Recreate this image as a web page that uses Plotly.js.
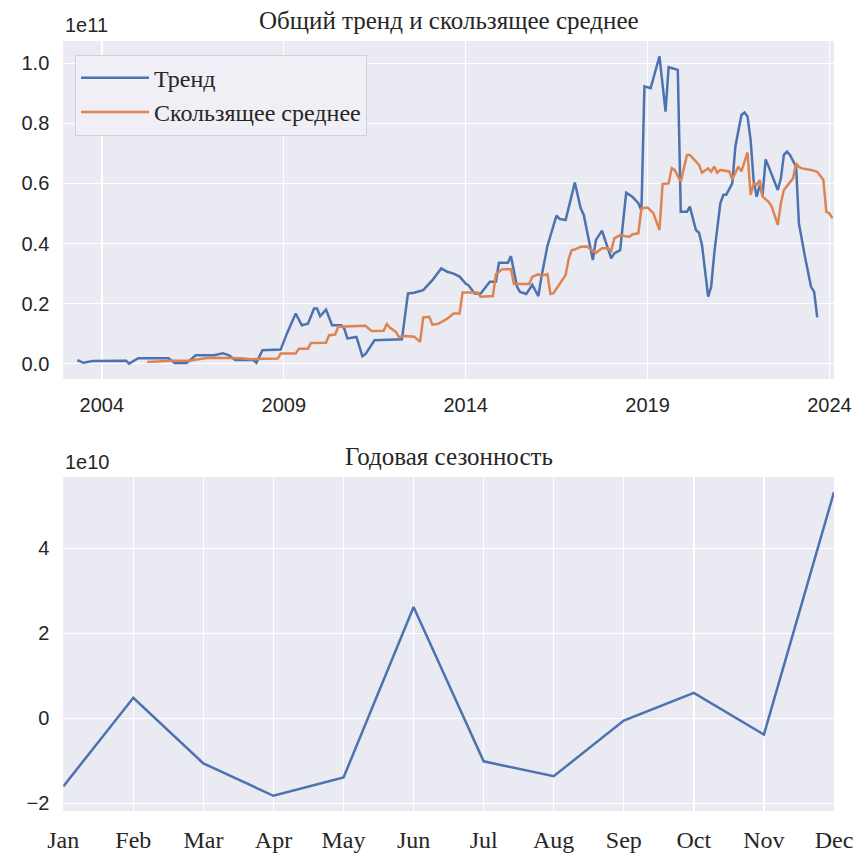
<!DOCTYPE html>
<html><head><meta charset="utf-8">
<script src="https://cdn.plot.ly/plotly-3.0.1.min.js"></script>
<style>html,body{margin:0;padding:0;background:#fff}</style>
</head><body><div id="chart" style="width:855px;height:855px"></div>
<script>
// Trend (values in units of 1e10)
const trendDates = ['2003-05','2003-07','2003-10','2004-09','2004-10','2005-01','2005-11','2006-01','2006-05','2006-08','2007-02','2007-05','2007-07','2007-09','2008-03','2008-04','2008-06','2008-12','2009-02','2009-05','2009-07','2009-09','2009-11','2009-12','2010-01','2010-03','2010-05','2010-08','2010-09','2010-10','2011-01','2011-03','2011-04','2011-07','2012-04','2012-06','2012-08','2012-11','2013-02','2013-05','2013-07','2013-09','2013-11','2014-01','2014-02','2014-04','2014-06','2014-09','2014-11','2014-12','2015-03','2015-04','2015-06','2015-07','2015-09','2015-11','2016-01','2016-02','2016-04','2016-07','2016-08','2016-10','2017-01','2017-03','2017-04','2017-06','2017-07','2017-08','2017-10','2018-01','2018-02','2018-04','2018-06','2018-08','2018-10','2018-11','2018-12','2019-02','2019-05','2019-07','2019-08','2019-11','2019-12','2020-02','2020-03','2020-05','2020-06','2020-07','2020-09','2020-10','2020-11','2021-01','2021-02','2021-03','2021-05','2021-06','2021-08','2021-09','2021-10','2021-11','2021-12','2022-01','2022-02','2022-03','2022-04','2022-05','2022-07','2022-08','2022-09','2022-10','2022-11','2022-12','2023-02','2023-03','2023-05','2023-07','2023-08','2023-09'];
const trendValues = [0.12,0.03,0.09,0.10,0.0,0.18,0.18,0.02,0.02,0.28,0.28,0.35,0.28,0.12,0.12,0.03,0.45,0.47,1.0,1.67,1.28,1.33,1.84,1.84,1.58,1.8,1.28,1.28,1.17,0.84,0.89,0.25,0.32,0.78,0.81,2.34,2.36,2.45,2.78,3.17,3.06,3.0,2.9,2.67,2.6,2.34,2.34,2.73,2.73,3.36,3.36,3.58,2.56,2.39,2.32,2.62,2.25,2.89,3.92,4.93,4.82,4.78,6.03,5.17,4.95,3.89,3.45,4.12,4.43,3.51,3.67,3.78,5.69,5.56,5.34,5.1,9.23,9.17,10.23,8.39,9.87,9.78,5.06,5.06,5.23,4.45,4.36,3.95,2.23,2.56,3.67,5.34,5.62,5.62,6.0,7.23,8.28,8.36,8.23,7.45,6.1,5.56,5.95,5.6,6.8,6.56,6.0,5.78,6.17,6.95,7.06,6.95,6.56,4.67,3.56,2.56,2.39,1.54];
// Moving average (values in units of 1e10)
const maDates = ['2005-04','2005-12','2006-06','2006-11','2007-02','2007-08','2007-11','2008-02','2008-11','2008-12','2009-05','2009-06','2009-09','2009-10','2010-03','2010-04','2010-06','2010-07','2011-04','2011-06','2011-10','2011-11','2011-12','2012-02','2012-03','2012-05','2012-08','2012-10','2012-11','2013-01','2013-02','2013-04','2013-06','2013-07','2013-09','2013-11','2013-12','2014-05','2014-06','2014-10','2014-11','2015-01','2015-04','2015-05','2015-10','2015-11','2016-01','2016-02','2016-04','2016-05','2016-06','2016-08','2016-10','2016-11','2016-12','2017-01','2017-03','2017-05','2017-08','2017-10','2017-12','2018-01','2018-02','2018-04','2018-07','2018-08','2018-10','2018-11','2019-01','2019-03','2019-05','2019-06','2019-08','2019-09','2019-10','2019-12','2020-02','2020-03','2020-05','2020-06','2020-07','2020-09','2020-10','2020-11','2020-12','2021-01','2021-04','2021-05','2021-07','2021-08','2021-09','2021-10','2021-11','2021-12','2022-01','2022-02','2022-03','2022-05','2022-06','2022-08','2022-09','2022-10','2023-01','2023-02','2023-03','2023-04','2023-07','2023-09','2023-11','2023-12','2024-01','2024-02'];
const maValues = [0.06,0.1,0.1,0.18,0.2,0.2,0.18,0.15,0.17,0.34,0.34,0.5,0.5,0.69,0.7,0.95,0.97,1.23,1.26,1.09,1.1,1.32,1.2,1.06,0.89,0.92,0.9,0.73,1.54,1.56,1.3,1.33,1.45,1.5,1.67,1.67,2.37,2.37,2.23,2.25,2.98,3.14,3.15,2.65,2.65,2.89,2.98,2.92,2.98,2.32,2.35,2.67,2.95,3.5,3.78,3.8,3.89,3.9,3.69,3.84,3.84,3.75,4.17,4.28,4.22,4.3,4.34,5.17,5.2,5.01,4.45,5.98,6.0,6.51,6.45,6.06,6.95,6.95,6.73,6.62,6.36,6.5,6.39,6.56,6.36,6.45,6.4,6.14,6.56,6.4,6.73,7.03,5.62,6.0,5.95,6.12,5.56,5.39,5.23,4.62,5.34,5.78,6.17,6.67,6.55,6.5,6.45,6.39,6.12,5.06,5.0,4.84];
// Seasonality (values in units of 1e10)
const months = ['Jan','Feb','Mar','Apr','May','Jun','Jul','Aug','Sep','Oct','Nov','Dec'];
const seasonalValues = [-1.60,0.485,-1.06,-1.82,-1.39,2.62,-1.01,-1.36,-0.05,0.60,-0.38,5.32];
// Tick labels
const yearTicks = ['2004','2009','2014','2019','2024'];
const topTickLabels = ['0.0','0.2','0.4','0.6','0.8','1.0']; // ×1e11
const bottomTickLabels = ['−2','0','2','4']; // ×1e10

const E10 = 1e10;
const BLUE = '#4C72B0', ORANGE = '#DD8452';
const SANS = '"Liberation Sans", Arial, sans-serif';
const SERIF = '"Liberation Serif", "Times New Roman", serif';
const TXT = '#262626';

const traces = [
  {x: trendDates.map(d => d + '-01'), y: trendValues.map(v => v * E10), type: 'scatter', mode: 'lines',
   name: 'Тренд', line: {color: BLUE, width: 2.5}, xaxis: 'x', yaxis: 'y', legendgroup: 'a'},
  {x: maDates.map(d => d + '-01'), y: maValues.map(v => v * E10), type: 'scatter', mode: 'lines',
   name: 'Скользящее среднее', line: {color: ORANGE, width: 2.5}, xaxis: 'x', yaxis: 'y', legendgroup: 'b'},
  {x: months, y: seasonalValues.map(v => v * E10), type: 'scatter', mode: 'lines',
   name: 'Сезонность', showlegend: false, line: {color: BLUE, width: 2.5}, xaxis: 'x2', yaxis: 'y2'}
];

const gridStyle = {showgrid: true, gridcolor: '#ffffff', gridwidth: 1.4, zeroline: false, showline: false,
  ticks: 'outside', tickcolor: 'rgba(0,0,0,0)'};

const layout = {
  width: 855, height: 855,
  margin: {l: 0, r: 0, t: 0, b: 0},
  paper_bgcolor: '#ffffff', plot_bgcolor: '#EAEAF2',
  showlegend: true,
  legend: {x: 0.0877, y: 0.936, xanchor: 'left', yanchor: 'top', bgcolor: 'rgba(240,240,245,0.9)',
    bordercolor: '#d0d0d8', borderwidth: 1, font: {family: SERIF, size: 24, color: TXT},
    itemwidth: 68, tracegroupgap: 0},
  xaxis: Object.assign({}, gridStyle, {domain: [0.074, 0.9754], type: 'date', anchor: 'y',
    range: ['2002-12-10', '2024-02-16'], tickvals: yearTicks.map(y => y + '-01-01'), ticktext: yearTicks,
    ticklen: 8, tickfont: {family: SANS, size: 20, color: TXT}}),
  yaxis: Object.assign({}, gridStyle, {domain: [0.5567, 0.952], anchor: 'x',
    range: [-0.51 * E10, 10.74 * E10], tickvals: topTickLabels.map(t => parseFloat(t) * 10 * E10), ticktext: topTickLabels,
    ticklen: 9, tickfont: {family: SANS, size: 20, color: TXT}}),
  xaxis2: Object.assign({}, gridStyle, {domain: [0.074, 0.9754], type: 'category', anchor: 'y2',
    range: [0, 11], ticklen: 7, tickfont: {family: SERIF, size: 24, color: TXT}}),
  yaxis2: Object.assign({}, gridStyle, {domain: [0.0515, 0.4421], anchor: 'x2',
    range: [-2.177 * E10, 5.677 * E10], tickvals: [-2, 0, 2, 4].map(v => v * E10), ticktext: bottomTickLabels,
    ticklen: 9, tickfont: {family: SANS, size: 20, color: TXT}}),
  annotations: [
    {text: 'Общий тренд и скользящее среднее', xref: 'paper', yref: 'paper', x: 0.525, y: 0.976,
     xanchor: 'center', yanchor: 'middle', showarrow: false, font: {family: SERIF, size: 25, color: TXT}},
    {text: 'Годовая сезонность', xref: 'paper', yref: 'paper', x: 0.525, y: 0.4655,
     xanchor: 'center', yanchor: 'middle', showarrow: false, font: {family: SERIF, size: 25, color: TXT}},
    {text: '1e11', xref: 'paper', yref: 'paper', x: 0.074, y: 0.955,
     xanchor: 'left', yanchor: 'bottom', showarrow: false, font: {family: SANS, size: 20, color: TXT}},
    {text: '1e10', xref: 'paper', yref: 'paper', x: 0.074, y: 0.445,
     xanchor: 'left', yanchor: 'bottom', showarrow: false, font: {family: SANS, size: 20, color: TXT}}
  ]
};

Plotly.newPlot('chart', traces, layout, {displayModeBar: false, staticPlot: true});
</script></body></html>
